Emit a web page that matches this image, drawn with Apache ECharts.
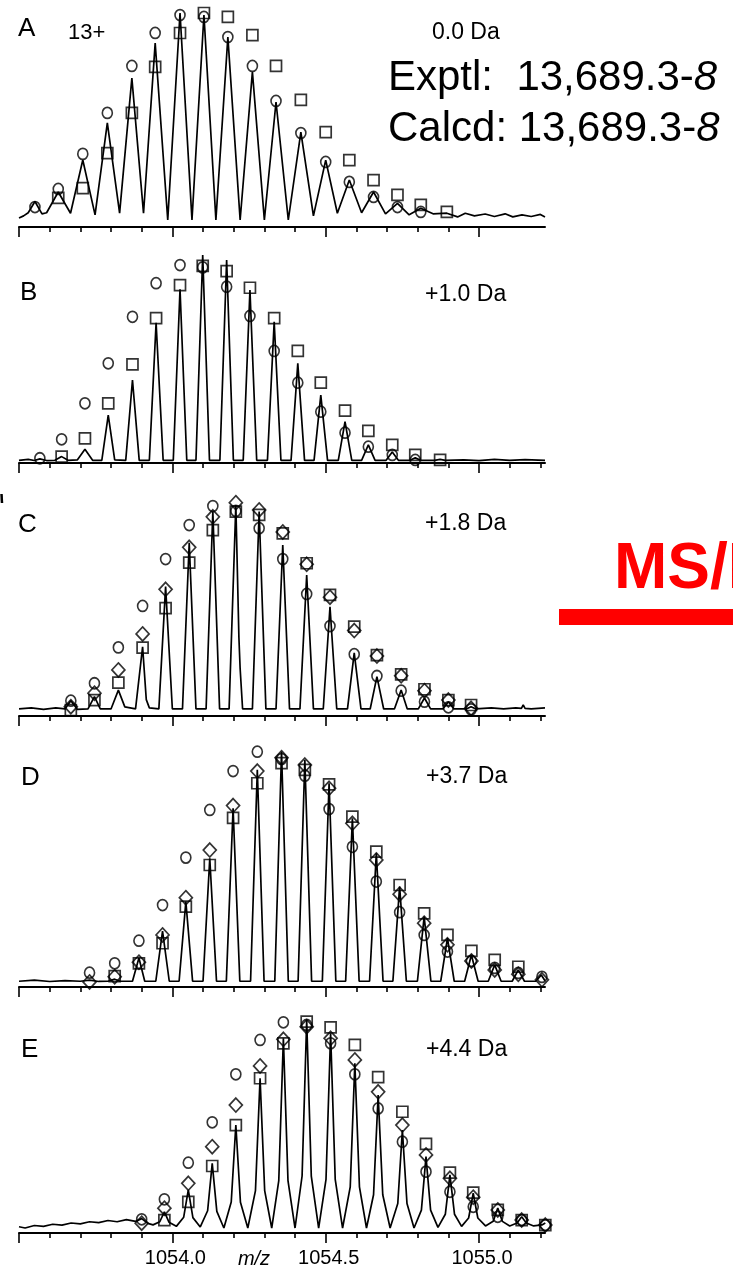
<!DOCTYPE html>
<html>
<head>
<meta charset="utf-8">
<script src="https://cdn.jsdelivr.net/npm/echarts@6/dist/echarts.min.js"></script>
<style>
  html, body { margin: 0; padding: 0; background: #fff; }
  #chart { width: 733px; height: 1269px; }
</style>
</head>
<body>
<div id="chart"></div>
<script>
// ---- axis ticks (m/z) ----
const majorTicks = [1053.5, 1054.0, 1054.5, 1055.0];
const tickLabels = [1054.0, 1054.5, 1055.0];
const minorTicksA = [1053.6, 1053.7, 1053.8, 1053.9, 1054.1, 1054.2, 1054.3, 1054.4, 1054.6, 1054.7, 1054.8, 1054.9];
const minorTicks = [1053.6, 1053.7, 1053.8, 1053.9, 1054.1, 1054.2, 1054.3, 1054.4, 1054.6, 1054.7, 1054.8, 1054.9, 1055.1, 1055.2];

// ---- panel labels ----
const panelNames = ['A', 'B', 'C', 'D', 'E'];
const shiftLabels = ['0.0 Da', '+1.0 Da', '+1.8 Da', '+3.7 Da', '+4.4 Da'];
const chargeLabel = '13+';

// ---- panel A: 0.0 Da ----
const mzA = [1053.552, 1053.628, 1053.708, 1053.788, 1053.868, 1053.944, 1054.025, 1054.103, 1054.181, 1054.261, 1054.338, 1054.419, 1054.500, 1054.577, 1054.656, 1054.734, 1054.810, 1054.895];
const circA = [5.8, 14.6, 31.6, 51.5, 74.3, 90.3, 99.0, 98.1, 88.3, 74.3, 57.3, 41.7, 27.7, 18.0, 10.7, 5.8, 3.4, null];
const squA = [null, 10.2, 15.0, 32.0, 51.5, 73.8, 90.3, 100, 98.1, 89.3, 74.3, 57.8, 42.2, 28.6, 18.9, 11.7, 6.8, 3.4];
const traceA = [[1053.500, 0.5], [1053.515, 1.5], [1053.530, 3.0], [1053.552, 8.5], [1053.575, 2.5], [1053.590, 3.0], [1053.628, 13.1], [1053.668, 2.8], [1053.708, 28.6], [1053.748, 2.0], [1053.788, 46.6], [1053.828, 2.8], [1053.868, 68.4], [1053.906, 2.8], [1053.944, 85.4], [1053.985, -0.5], [1054.025, 100], [1054.064, -0.5], [1054.103, 99.0], [1054.142, -0.5], [1054.181, 88.3], [1054.221, -0.5], [1054.261, 71.4], [1054.300, -0.5], [1054.338, 56.8], [1054.378, -0.5], [1054.419, 42.2], [1054.460, 1.5], [1054.500, 28.6], [1054.538, 2.8], [1054.577, 18.9], [1054.617, 3.0], [1054.656, 13.1], [1054.695, 2.5], [1054.734, 7.6], [1054.772, 2.0], [1054.810, 5.2], [1054.850, 2.5], [1054.895, 2.8], [1054.930, 1.0], [1054.955, 2.8], [1054.985, 1.5], [1055.020, 2.4], [1055.050, 1.2], [1055.085, 2.5], [1055.110, 1.0], [1055.140, 2.0], [1055.170, 1.2], [1055.200, 2.2], [1055.215, 1.0]];

// ---- panel B: +1.0 Da ----
const mzB = [1053.568, 1053.639, 1053.715, 1053.791, 1053.870, 1053.947, 1054.025, 1054.099, 1054.177, 1054.253, 1054.332, 1054.409, 1054.484, 1054.563, 1054.639, 1054.717, 1054.792, 1054.873];
const circB = [1.3, 10.5, 28.0, 47.4, 70.0, 86.3, 95.1, 94.0, 84.6, 70.4, 53.4, 38.0, 23.9, 13.7, 6.9, 2.9, 0.5, null];
const squB = [null, 2.1, 11.0, 28.0, 46.9, 69.3, 85.4, 94.7, 92.2, 84.1, 69.3, 53.4, 38.0, 24.4, 14.6, 7.8, 2.9, 0.5];
const traceB = [[1053.500, 0.3], [1053.530, 0.8], [1053.550, 0.2], [1053.568, 1.0], [1053.590, 0.2], [1053.617, 0.3], [1053.639, 2.1], [1053.660, 0.3], [1053.690, 0.5], [1053.715, 5.7], [1053.740, 0.3], [1053.770, 0.3], [1053.791, 22.3], [1053.812, 0.5], [1053.848, 0.3], [1053.870, 39.3], [1053.892, 0.3], [1053.925, 0.3], [1053.947, 67.1], [1053.970, 0.3], [1054.003, 0.3], [1054.025, 83.4], [1054.047, 0.3], [1054.077, 0.3], [1054.099, 100], [1054.121, 0.3], [1054.155, 0.3], [1054.177, 97.6], [1054.199, 0.3], [1054.231, 0.3], [1054.253, 83.0], [1054.275, 0.3], [1054.310, 0.3], [1054.332, 67.6], [1054.354, 0.3], [1054.387, 0.3], [1054.409, 47.4], [1054.431, 0.3], [1054.462, 0.3], [1054.484, 32.0], [1054.506, 0.3], [1054.541, 0.3], [1054.563, 19.1], [1054.585, 0.3], [1054.617, 0.3], [1054.639, 7.8], [1054.661, 0.3], [1054.697, 0.3], [1054.717, 4.4], [1054.737, 0.3], [1054.775, 0.3], [1054.792, 1.5], [1054.810, 0.3], [1054.855, 0.3], [1054.873, 0.8], [1054.890, 0.3], [1054.950, 0.5], [1055.000, 0.2], [1055.050, 0.8], [1055.100, 0.3], [1055.150, 0.6], [1055.215, 0.3]];

// ---- panel C: +1.8 Da ----
const mzC = [1053.669, 1053.746, 1053.824, 1053.903, 1053.978, 1054.055, 1054.132, 1054.207, 1054.283, 1054.360, 1054.438, 1054.514, 1054.593, 1054.667, 1054.746, 1054.822, 1054.900, 1054.974];
const circC = [4.5, 12.9, 30.2, 50.2, 72.8, 89.2, 98.4, 96.0, 87.7, 72.8, 56.0, 40.5, 26.9, 16.4, 9.3, 4.0, 1.3, 0.3];
const squC = [0, 4.8, 13.2, 30.1, 49.1, 71.1, 86.8, 95.7, 94.1, 85.2, 70.8, 55.5, 40.2, 26.5, 17.2, 10.0, 4.8, 2.4];
const diaC = [1.6, 8.1, 19.3, 36.7, 58.2, 78.5, 93.2, 100, 96.5, 85.9, 70.3, 54.4, 38.3, 26.0, 16.5, 9.3, 4.8, 0.8];
const traceC = [[1053.500, 0.5], [1053.540, 1.0], [1053.580, 0.3], [1053.620, 1.0], [1053.650, 0.5], [1053.669, 4.5], [1053.690, 0.3], [1053.725, 0.5], [1053.746, 6.4], [1053.765, 0.5], [1053.800, 0.5], [1053.824, 9.6], [1053.845, 1.5], [1053.880, 0.5], [1053.903, 30.5], [1053.915, 5.0], [1053.925, 1.0], [1053.956, 0.5], [1053.978, 59.5], [1054.000, 0.5], [1054.033, 0.5], [1054.055, 80.7], [1054.077, 0.5], [1054.110, 0.5], [1054.132, 95.7], [1054.154, 0.5], [1054.185, 0.5], [1054.207, 98.9], [1054.217, 35.0], [1054.221, 20.0], [1054.229, 0.5], [1054.261, 0.5], [1054.283, 95.7], [1054.305, 0.5], [1054.338, 0.5], [1054.360, 79.6], [1054.382, 0.5], [1054.416, 0.5], [1054.438, 65.1], [1054.460, 0.5], [1054.492, 0.5], [1054.514, 49.8], [1054.536, 0.5], [1054.571, 0.5], [1054.593, 27.6], [1054.615, 0.5], [1054.645, 0.5], [1054.667, 16.1], [1054.689, 0.5], [1054.724, 0.5], [1054.746, 9.6], [1054.766, 0.5], [1054.802, 0.5], [1054.822, 5.8], [1054.842, 0.5], [1054.882, 0.5], [1054.900, 4.0], [1054.918, 0.5], [1054.958, 0.5], [1054.974, 1.6], [1054.990, 0.5], [1055.040, 1.0], [1055.080, 0.5], [1055.120, 1.0], [1055.138, 0.8], [1055.144, 2.4], [1055.150, 0.8], [1055.170, 0.5], [1055.215, 1.0]];

// ---- panel D: +3.7 Da ----
const mzD = [1053.730, 1053.812, 1053.891, 1053.968, 1054.044, 1054.122, 1054.198, 1054.277, 1054.356, 1054.432, 1054.511, 1054.587, 1054.665, 1054.741, 1054.821, 1054.897, 1054.975, 1055.051, 1055.128, 1055.205];
const circD = [4.0, 8.1, 17.9, 33.4, 54.0, 74.7, 91.6, 100, 96.8, 89.6, 75.1, 58.7, 43.6, 30.3, 20.4, 13.2, 9.1, 6.1, 3.9, 2.2];
const squD = [null, 2.5, 8.1, 16.8, 32.7, 50.8, 71.3, 86.3, 95.0, 92.1, 85.8, 71.8, 56.6, 42.1, 29.8, 20.4, 13.5, 9.6, 6.6, null];
const diaD = [0, 2.3, 8.6, 20.4, 36.6, 57.3, 76.6, 91.6, 97.4, 94.2, 84.1, 68.9, 53.0, 38.1, 25.5, 16.1, 9.1, 5.2, 3.3, 0.9];
const traceD = [[1053.500, 0.3], [1053.550, 0.8], [1053.600, 0.2], [1053.650, 0.6], [1053.700, 0.3], [1053.730, 0.8], [1053.760, 0.2], [1053.790, 0.3], [1053.812, 1.2], [1053.830, 0.3], [1053.870, 0.3], [1053.891, 10.4], [1053.910, 0.3], [1053.946, 0.3], [1053.968, 22.1], [1053.990, 0.3], [1054.022, 0.3], [1054.044, 34.9], [1054.066, 0.3], [1054.100, 0.3], [1054.122, 53.7], [1054.144, 0.3], [1054.176, 0.3], [1054.198, 75.4], [1054.220, 0.3], [1054.255, 0.3], [1054.277, 92.1], [1054.299, 0.3], [1054.334, 0.3], [1054.356, 100], [1054.378, 0.3], [1054.410, 0.3], [1054.432, 96.4], [1054.454, 0.3], [1054.489, 0.3], [1054.511, 86.3], [1054.533, 0.3], [1054.565, 0.3], [1054.587, 71.1], [1054.609, 0.3], [1054.643, 0.3], [1054.665, 55.9], [1054.687, 0.3], [1054.719, 0.3], [1054.741, 41.4], [1054.763, 0.3], [1054.799, 0.3], [1054.821, 28.4], [1054.843, 0.3], [1054.875, 0.3], [1054.897, 19.0], [1054.919, 0.3], [1054.953, 0.3], [1054.975, 11.7], [1054.997, 0.3], [1055.030, 0.3], [1055.051, 7.4], [1055.072, 0.3], [1055.108, 0.3], [1055.128, 5.2], [1055.148, 0.3], [1055.185, 0.3], [1055.203, 3.0], [1055.215, 0.5]];

// ---- panel E: +4.4 Da ----
const mzE = [1053.900, 1053.974, 1054.052, 1054.130, 1054.207, 1054.286, 1054.362, 1054.438, 1054.516, 1054.595, 1054.671, 1054.750, 1054.827, 1054.905, 1054.981, 1055.061, 1055.139, 1055.216];
const circE = [4.2, 13.8, 31.4, 50.8, 73.9, 90.4, 98.9, 97.6, 88.8, 73.9, 57.5, 41.5, 27.1, 17.4, 10.2, 5.4, 3.8, 1.4];
const squE = [null, 3.8, 12.6, 29.8, 49.5, 72.0, 88.8, 99.2, 96.5, 88.0, 72.5, 55.9, 40.4, 26.6, 17.0, 8.7, 3.8, 1.4];
const diaE = [2.3, 9.5, 21.5, 39.1, 59.1, 77.9, 90.7, 96.8, 91.2, 80.8, 65.5, 49.5, 35.1, 23.9, 14.8, 8.7, 3.8, 1.4];
const traceE = [[1053.500, 0.6], [1053.520, 0.0], [1053.550, 1.2], [1053.580, 0.8], [1053.610, 1.8], [1053.640, 1.4], [1053.670, 2.4], [1053.700, 2.0], [1053.730, 3.0], [1053.760, 2.6], [1053.790, 3.6], [1053.820, 3.0], [1053.850, 4.0], [1053.880, 3.2], [1053.900, 4.5], [1053.920, 2.2], [1053.937, 1.5], [1053.959, 3.0], [1053.974, 7.8], [1053.989, 2.8], [1054.013, 0.8], [1054.037, 5.2], [1054.052, 18.3], [1054.067, 5.0], [1054.091, 0.5], [1054.115, 8.3], [1054.130, 31.1], [1054.145, 8.0], [1054.168, 0], [1054.192, 12.5], [1054.207, 49.5], [1054.222, 12.4], [1054.246, 0], [1054.271, 18.0], [1054.286, 72.0], [1054.301, 18.0], [1054.324, 0], [1054.347, 22.8], [1054.362, 91.2], [1054.377, 22.8], [1054.400, 0], [1054.423, 25.0], [1054.438, 100], [1054.453, 25.0], [1054.477, 0], [1054.501, 23.4], [1054.516, 93.6], [1054.531, 23.4], [1054.555, 0], [1054.580, 19.8], [1054.595, 79.2], [1054.610, 19.8], [1054.633, 0], [1054.656, 16.0], [1054.671, 63.9], [1054.686, 16.0], [1054.710, 0], [1054.735, 11.8], [1054.750, 47.1], [1054.765, 11.8], [1054.788, 0], [1054.812, 8.6], [1054.827, 34.3], [1054.842, 8.6], [1054.866, 0.3], [1054.890, 6.6], [1054.905, 25.5], [1054.920, 6.6], [1054.943, 0.8], [1054.966, 4.8], [1054.981, 16.7], [1054.996, 4.8], [1055.021, 1.0], [1055.046, 3.2], [1055.061, 9.6], [1055.076, 3.2], [1055.100, 1.0], [1055.124, 2.4], [1055.139, 5.4], [1055.154, 2.4], [1055.178, 1.0], [1055.205, 1.5], [1055.216, 2.4]];

// ---- layout of the five stacked panels ----
const FONT = '"Liberation Sans", Arial, Helvetica, sans-serif';
const X_MIN = 1053.5, X_MAX = 1055.215;
const panels = [
  { top: 13,    height: 214,   yMin: -3.9, trace: traceA, mz: mzA, circ: circA, squ: squA, dia: null, minor: minorTicksA },
  { top: 255,   height: 208,   yMin: -1.0, trace: traceB, mz: mzB, circ: circB, squ: squB, dia: null, minor: minorTicks },
  { top: 502.7, height: 213.3, yMin: -2.9, trace: traceC, mz: mzC, circ: circC, squ: squC, dia: diaC, minor: minorTicks },
  { top: 751.7, height: 235.3, yMin: -2.2, trace: traceD, mz: mzD, circ: circD, squ: squD, dia: diaD, minor: minorTicks },
  { top: 1020,  height: 213,   yMin: -2.4, trace: traceE, mz: mzE, circ: circE, squ: squE, dia: diaE, minor: minorTicks }
];

function pairs(mz, vals) {
  const out = [];
  mz.forEach((m, i) => { if (vals[i] !== null && vals[i] !== undefined) out.push([m, vals[i]]); });
  return out;
}

const grids = [], xAxes = [], yAxes = [], series = [];
panels.forEach((p, i) => {
  const last = i === panels.length - 1;
  grids.push({ left: 19, width: 526, top: p.top, height: p.height });
  // main axis: line, major ticks, labels on the bottom panel
  xAxes.push({
    gridIndex: i, type: 'value', min: X_MIN, max: X_MAX, position: 'bottom',
    axisLine: { show: true, onZero: false, lineStyle: { color: '#000', width: 2 } },
    axisTick: { show: true, customValues: majorTicks, length: 10, lineStyle: { color: '#000', width: 1.6 } },
    axisLabel: {
      show: last, customValues: tickLabels, margin: 15, color: '#000',
      fontSize: 20, fontFamily: FONT, padding: [0, 0, 0, 6],
      formatter: v => Number(v).toFixed(1)
    },
    splitLine: { show: false }
  });
  // companion axis carrying the short 0.1 ticks
  xAxes.push({
    gridIndex: i, type: 'value', min: X_MIN, max: X_MAX, position: 'bottom',
    axisLine: { show: false, onZero: false },
    axisTick: { show: true, customValues: p.minor, length: 5, lineStyle: { color: '#000', width: 1.6 } },
    axisLabel: { show: false, customValues: p.minor },
    splitLine: { show: false }
  });
  yAxes.push({ gridIndex: i, type: 'value', min: p.yMin, max: 100, show: false });

  const xi = i * 2;
  series.push({
    type: 'line', xAxisIndex: xi, yAxisIndex: i, data: p.trace,
    showSymbol: false, smooth: false, z: 2, silent: true,
    lineStyle: { color: '#000', width: 1.7 }
  });
  const markerStyle = { color: 'rgba(0,0,0,0)', borderColor: '#000', borderWidth: 1.7 };
  series.push({
    type: 'scatter', xAxisIndex: xi, yAxisIndex: i, data: pairs(p.mz, p.circ),
    symbol: 'circle', symbolSize: [10, 11], itemStyle: markerStyle, clip: false, z: 3, silent: true
  });
  series.push({
    type: 'scatter', xAxisIndex: xi, yAxisIndex: i, data: pairs(p.mz, p.squ),
    symbol: 'rect', symbolSize: [11, 11], itemStyle: markerStyle, clip: false, z: 3, silent: true
  });
  if (p.dia) {
    series.push({
      type: 'scatter', xAxisIndex: xi, yAxisIndex: i, data: pairs(p.mz, p.dia),
      symbol: 'diamond', symbolSize: [13, 14], itemStyle: markerStyle, clip: false, z: 3, silent: true
    });
  }
});

// ---- text and annotation overlays ----
function label(text, x, y, size, extra) {
  return Object.assign({
    type: 'text', silent: true, z: 10,
    style: Object.assign({ text: text, x: x, y: y, fill: '#000', font: size + 'px ' + FONT, verticalAlign: 'middle', align: 'left' }, extra || {})
  });
}
const letterPos = [[18, 29], [20, 293], [18, 525], [21, 778], [21, 1050]];
const shiftPos = [[432, 32.5], [425, 295], [425, 524], [426, 777], [426, 1050]];
const graphics = [];
panelNames.forEach((n, i) => graphics.push(label(n, letterPos[i][0], letterPos[i][1], 26)));
shiftLabels.forEach((t, i) => graphics.push(label(t, shiftPos[i][0], shiftPos[i][1], 23)));
graphics.push(label(chargeLabel, 68, 32.5, 22));
graphics.push({
  type: 'text', silent: true, z: 10,
  style: {
    x: 388, y: 78, verticalAlign: 'middle',
    text: '{n|Exptl:  13,689.3-}{i|8}',
    rich: {
      n: { fontSize: 42, fontFamily: FONT, fill: '#000' },
      i: { fontSize: 42, fontFamily: FONT, fontStyle: 'italic', fill: '#000' }
    }
  }
});
graphics.push({
  type: 'text', silent: true, z: 10,
  style: {
    x: 388, y: 129.5, verticalAlign: 'middle',
    text: '{n|Calcd: 13,689.3-}{i|8}',
    rich: {
      n: { fontSize: 42, fontFamily: FONT, fill: '#000' },
      i: { fontSize: 42, fontFamily: FONT, fontStyle: 'italic', fill: '#000' }
    }
  }
});
graphics.push(label('m/z', 254, 1259, 20, { align: 'center', font: 'italic 20px ' + FONT }));
graphics.push(label('MS/MS', 614, 570, 64, { fill: '#ff0000', font: 'bold 64px ' + FONT }));
graphics.push({ type: 'rect', silent: true, z: 10, shape: { x: 559, y: 609, width: 180, height: 16 }, style: { fill: '#ff0000' } });
graphics.push({ type: 'line', silent: true, z: 10, shape: { x1: 1.5, y1: 494, x2: 2, y2: 503 }, style: { stroke: '#000', lineWidth: 2.5 } });

const chart = echarts.init(document.getElementById('chart'), null, { renderer: 'canvas' });
chart.setOption({
  animation: false,
  backgroundColor: '#fff',
  grid: grids,
  xAxis: xAxes,
  yAxis: yAxes,
  series: series,
  graphic: graphics
});
</script>
</body>
</html>
